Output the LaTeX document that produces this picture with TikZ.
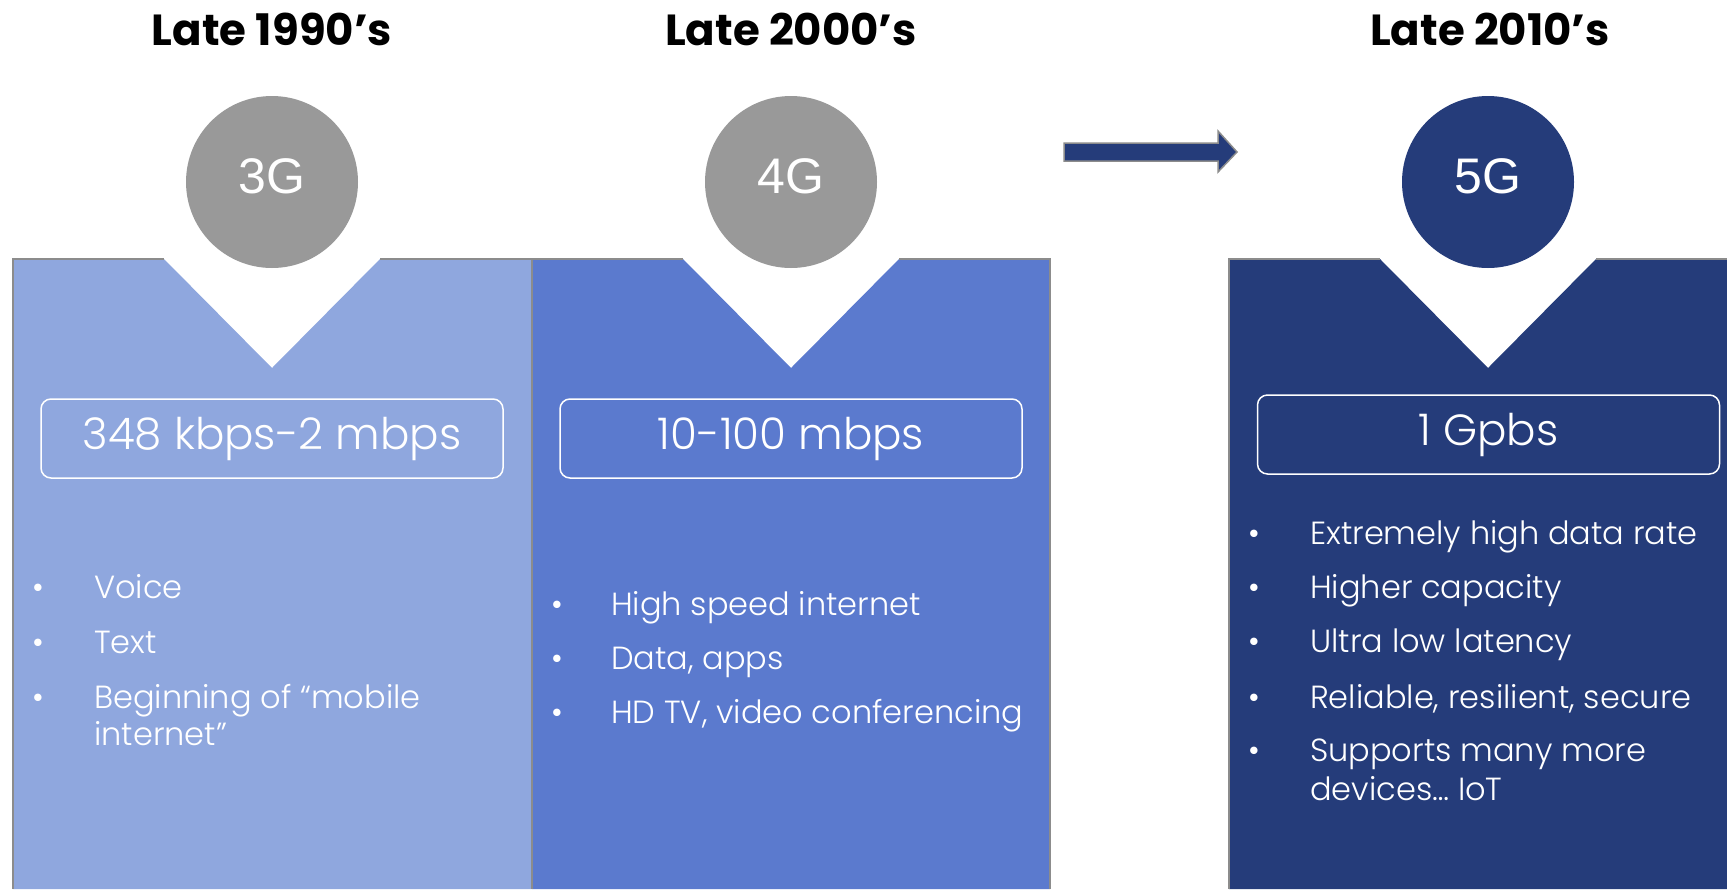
\documentclass[tikz,border=0pt]{standalone}
\usepackage{fontspec}
\setmainfont{Poppins}
\newfontfamily\plight{Poppins Light}
\newfontfamily\gfont{Liberation Sans}
\definecolor{pone}{RGB}{143,167,222}
\definecolor{ptwo}{RGB}{91,122,206}
\definecolor{pthree}{RGB}{37,60,122}
\definecolor{cgrey}{RGB}{153,153,153}
\definecolor{edgegrey}{RGB}{140,140,140}
\begin{document}
\begin{tikzpicture}[x=1pt,y=-1pt,
  title/.style={anchor=base, text=black, font=\fontsize{43.5}{50}\selectfont\bfseries},
  gen/.style={circle, minimum size=172pt, inner sep=0pt, text=white, text depth=12pt, font=\gfont\fontsize{50}{60}\selectfont},
  speed/.style={draw=white, line width=1.5pt, rounded corners=10pt, minimum width=462pt, minimum height=79pt, inner sep=0pt, text=white, font=\plight\fontsize{43.6}{50}\selectfont},
  item/.style={anchor=base west, text=white, inner sep=0pt, font=\plight\fontsize{32}{37}\selectfont},
  dot/.style={anchor=base, text=white, inner sep=0pt, font=\plight\fontsize{32}{37}\selectfont},
  rim/.style={draw=edgegrey, line width=1.5pt}]
\useasboundingbox (0,0) rectangle (1727,889);
% panels
\fill[pone] (13,259) -- (164,259) -- (272,368) -- (380,259) -- (532,259) -- (532,889) -- (13,889) -- cycle;
\fill[ptwo] (532,259) -- (683,259) -- (791,368) -- (899,259) -- (1050,259) -- (1050,889) -- (532,889) -- cycle;
\fill[pthree] (1229,259) -- (1380,259) -- (1488,368) -- (1596,259) -- (1727,259) -- (1727,889) -- (1229,889) -- cycle;
\draw[rim] (13,889) -- (13,259) -- (164,259);
\draw[rim] (380,259) -- (532,259) -- (532,889);
\draw[rim] (899,259) -- (1050,259) -- (1050,889);
\draw[rim] (532,259) -- (683,259);
\draw[rim] (1229,889) -- (1229,259) -- (1380,259);
\draw[rim] (1596,259) -- (1727,259);
% arrow
\filldraw[fill=pthree, draw=edgegrey, line width=1.5pt] (1064,143) -- (1218,143) -- (1218,131) -- (1237,152) -- (1218,172) -- (1218,161) -- (1064,161) -- cycle;
% titles
\node[title] (t1) at (272,45) {Late 1990’s};
\node[title] (t2) at (791,45) {Late 2000’s};
\node[title] (t3) at (1490,45) {Late 2010’s};
% circles
\node[gen, fill=cgrey] (g3) at (272,182) {3G};
\node[gen, fill=cgrey] (g4) at (791,182) {4G};
\node[gen, fill=pthree] (g5) at (1488,182) {5G};
% speed boxes
\node[speed] (s1) at (272,438.5) {348 kbps-2 mbps};
\node[speed] (s2) at (791,438.5) {10-100 mbps};
\node[speed] (s3) at (1488.5,434.5) {1 Gpbs};
% panel 1 bullets
\node[dot] (d11) at (38,598) {•};
\node[item] (a11) at (94,598) {Voice};
\node[dot] (d12) at (38,653) {•};
\node[item] (a12) at (94,653) {Text};
\node[dot] (d13) at (38,708) {•};
\node[item] (a13) at (94,708) {Beginning of “mobile};
\node[item] (a13b) at (94,745) {internet”};
% panel 2 bullets
\node[dot] (d21) at (557,615) {•};
\node[item] (a21) at (611,615) {High speed internet};
\node[dot] (d22) at (557,669) {•};
\node[item] (a22) at (611,669) {Data, apps};
\node[dot] (d23) at (557,723) {•};
\node[item] (a23) at (611,723) {HD TV, video conferencing};
% panel 3 bullets
\node[dot] (d31) at (1254,544) {•};
\node[item] (a31) at (1310,544) {Extremely high data rate};
\node[dot] (d32) at (1254,598) {•};
\node[item] (a32) at (1310,598) {Higher capacity};
\node[dot] (d33) at (1254,652) {•};
\node[item] (a33) at (1310,652) {Ultra low latency};
\node[dot] (d34) at (1254,708) {•};
\node[item] (a34) at (1310,708) {Reliable, resilient, secure};
\node[dot] (d35) at (1254,761) {•};
\node[item] (a35) at (1310,761) {Supports many more};
\node[item] (a35b) at (1310,800) {devices… IoT};
\end{tikzpicture}
\end{document}
